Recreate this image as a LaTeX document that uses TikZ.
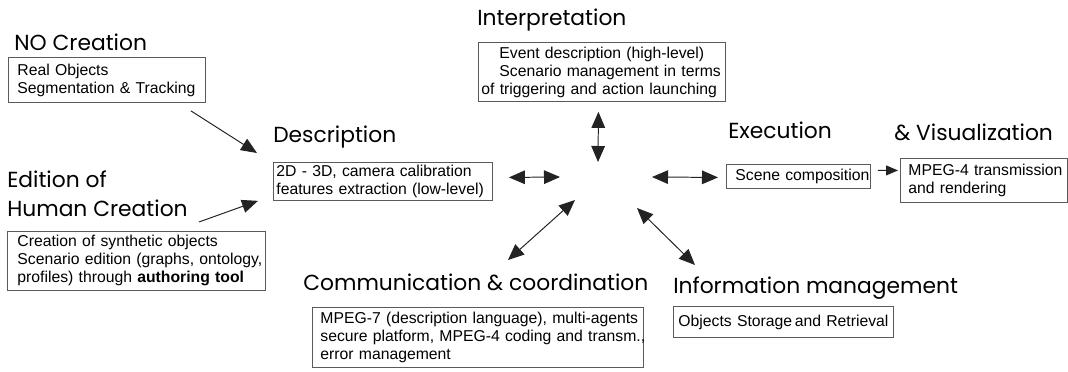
\documentclass[tikz,border=0pt]{standalone}
\usepackage{fontspec}
\setmainfont{Liberation Sans}
\newfontfamily\headfont{Poppins}
\usetikzlibrary{arrows.meta, calc}
\definecolor{framegray}{RGB}{90,90,90}
\definecolor{arrowdark}{RGB}{35,35,35}
\newcommand{\titlefont}{\headfont\fontsize{15.5}{20}\selectfont}
\newcommand{\bodyfont}{\fontsize{11.2}{12.8}\selectfont}

\begin{document}
\begin{tikzpicture}[
    x=0.025cm, y=-0.025cm,
    heading/.style={anchor=base west, inner sep=0pt, font=\titlefont, align=left},
    textbox/.style={draw=framegray, line width=0.6pt, anchor=north west, font=\bodyfont, inner ysep=0pt,
        execute at begin node={\rightskip=0pt plus 1fil minus 10cm}},
    flow/.style={draw=arrowdark, line width=0.7pt, -{Triangle[length=0.4cm, width=0.33cm]}},
    shortflow/.style={draw=arrowdark, line width=0.7pt, -{Triangle[length=0.3cm, width=0.25cm]}},
    link/.style={draw=arrowdark, line width=0.7pt, {Triangle[length=0.4cm, width=0.34cm]}-{Triangle[length=0.4cm, width=0.34cm]}}
]
    \useasboundingbox (0,0) rectangle (1068,371);

    % NO creation
    \node[heading] (nocrT) at (14,50) {NO Creation};
    \node[textbox, inner xsep=0.225cm, text width=4.475cm, minimum height=1.125cm] (nocr) at (8,57)
        {Real Objects\\Segmentation \& Tracking};

    % Human creation
    \node[heading] (edT) at (7,216) {Edition of\\Human Creation};
    \node[textbox, inner xsep=0.25cm, text width=5.95cm, minimum height=1.475cm] (ed) at (7,231)
        {Creation of synthetic objects\\Scenario edition (graphs, ontology,\\profiles) through \textbf{authoring tool}};

    % Description
    \node[heading] (descT) at (273,142) {Description};
    \node[textbox, inner xsep=0.075cm, text width=5.325cm, minimum height=0.95cm] (desc) at (273,162)
        {2D - 3D, camera calibration\\features extraction (low-level)};

    % Interpretation
    \node[heading] (intpT) at (477,25) {Interpretation};
    \node[textbox, inner xsep=0.075cm, text width=6.025cm, minimum height=1.475cm] (intp) at (478,42)
        {\hspace*{0.45cm}Event description (high-level)\\\hspace*{0.45cm}Scenario management in terms\\of triggering and action launching};

    % Execution & visualization
    \node[heading] (execT) at (728,138) {Execution};
    \node[textbox, inner xsep=0.225cm, text width=3.15cm, minimum height=0.6cm] (scene) at (726,164)
        {Scene composition};
    \node[heading] (visT) at (894,140) {\& Visualization};
    \node[textbox, inner xsep=0.2cm, text width=3.775cm, minimum height=1.1cm] (mpeg) at (900,158)
        {MPEG-4 transmission\\and rendering};

    % Communication
    \node[heading] (commT) at (303,290) {Communication \& coordination};
    \node[textbox, inner xsep=0.2cm, text width=7.875cm, minimum height=1.5cm] (comm) at (312,307)
        {MPEG-7 (description language), multi-agents\\secure platform, MPEG-4 coding and transm.,\\error management};

    % Information management
    \node[heading] (infoT) at (673,293) {Information management};
    \node[textbox, inner xsep=0.125cm, text width=5.25cm, minimum height=0.775cm] (info) at (673,306)
        {Objects Storage\,and Retrieval};

    % hub ends
    \coordinate (hubN) at (598,162);
    \coordinate (hubW) at (560,177);
    \coordinate (hubE) at (652,177);
    \coordinate (hubSW) at (575,200);
    \coordinate (hubSE) at (637,208);
    \coordinate (commIn) at (508,260);
    \coordinate (infoIn) at (695,265);

    % Connections
    \draw[flow] ($(nocr.south east)+(-15,8)$) -- ($(desc.north west)+(-16,-9)$);
    \draw[flow] ($(ed.north east)+(-67,-9)$) -- ($(desc.south west)+(-15,0)$);
    \draw[link] ($(intp.south)+(-3.5,10)$) -- (hubN);
    \draw[link] ($(desc.east)+(16,-4)$) -- (hubW);
    \draw[link] (hubE) -- ($(scene.west)+(-8,1)$);
    \draw[link] (hubSW) -- (commIn);
    \draw[link] (hubSE) -- (infoIn);
    \draw[shortflow] ($(scene.east)+(7,-6)$) -- ($(mpeg.west)+(-2,-10)$);
\end{tikzpicture}
\end{document}
